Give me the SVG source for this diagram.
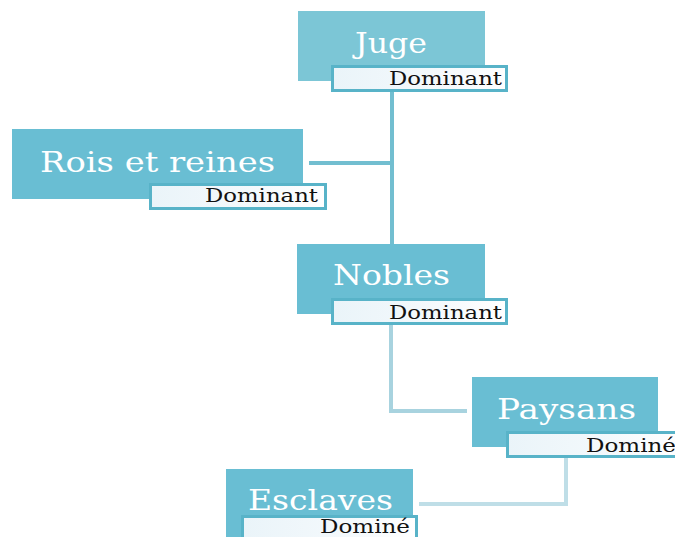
<svg xmlns="http://www.w3.org/2000/svg" width="675" height="537" viewBox="0 0 675 537">
<defs>
<linearGradient id="lg" x1="0" y1="0" x2="1" y2="0">
<stop offset="0" stop-color="#eaf4f9"/>
<stop offset="0.6" stop-color="#f4f9fc"/>
<stop offset="1" stop-color="#ffffff"/>
</linearGradient>
<style>
.box{fill:#69bed3}
.lab{fill:url(#lg);stroke:#58b3c8;stroke-width:3}
.t{font-family:"DejaVu Serif","Liberation Serif",serif;font-size:28px;fill:#ffffff}
.s{font-family:"DejaVu Serif","Liberation Serif",serif;font-size:18px;fill:#111111}
.c{fill:none;stroke-width:4}
</style>
</defs>
<rect width="675" height="537" fill="#ffffff"/>
<g id="connectors">
<path class="c" stroke="#72bed0" d="M392,92 V244"/>
<path class="c" stroke="#72bed0" d="M309,163 H392"/>
<path class="c" stroke="#a8d3df" d="M391,325 V411 H467"/>
<path class="c" stroke="#bfdee7" d="M566,458 V504 H419"/>
</g>
<g id="juge">
<rect class="box" x="298" y="11" width="187" height="70" style="fill:#7cc6d6"/>
<text class="t" x="355" y="53" textLength="72" lengthAdjust="spacingAndGlyphs">Juge</text>
<rect class="lab" x="332.5" y="66.5" width="174" height="24"/>
<text class="s" x="389" y="85" textLength="113" lengthAdjust="spacingAndGlyphs">Dominant</text>
</g>
<g id="rois">
<rect class="box" x="12" y="129" width="291" height="70"/>
<text class="t" x="40" y="172" textLength="235" lengthAdjust="spacingAndGlyphs">Rois et reines</text>
<rect class="lab" x="150.5" y="184.5" width="175" height="24"/>
<text class="s" x="205" y="202" textLength="113" lengthAdjust="spacingAndGlyphs">Dominant</text>
</g>
<g id="nobles">
<rect class="box" x="297" y="244" width="188" height="70"/>
<text class="t" x="333" y="285" textLength="117" lengthAdjust="spacingAndGlyphs">Nobles</text>
<rect class="lab" x="332.5" y="299.5" width="174" height="24"/>
<text class="s" x="389" y="319" textLength="113" lengthAdjust="spacingAndGlyphs">Dominant</text>
</g>
<g id="paysans">
<rect class="box" x="472" y="377" width="186" height="70"/>
<text class="t" x="497" y="419" textLength="139" lengthAdjust="spacingAndGlyphs">Paysans</text>
<rect class="lab" x="507.5" y="432.5" width="174" height="24"/>
<text class="s" x="586" y="452" textLength="90" lengthAdjust="spacingAndGlyphs">Dominé</text>
</g>
<g id="esclaves">
<rect class="box" x="226" y="469" width="187" height="70"/>
<text class="t" x="248" y="510" textLength="145" lengthAdjust="spacingAndGlyphs">Esclaves</text>
<rect class="lab" x="242.5" y="516.5" width="174" height="24"/>
<text class="s" x="320" y="533" textLength="90" lengthAdjust="spacingAndGlyphs">Dominé</text>
</g>
</svg>
